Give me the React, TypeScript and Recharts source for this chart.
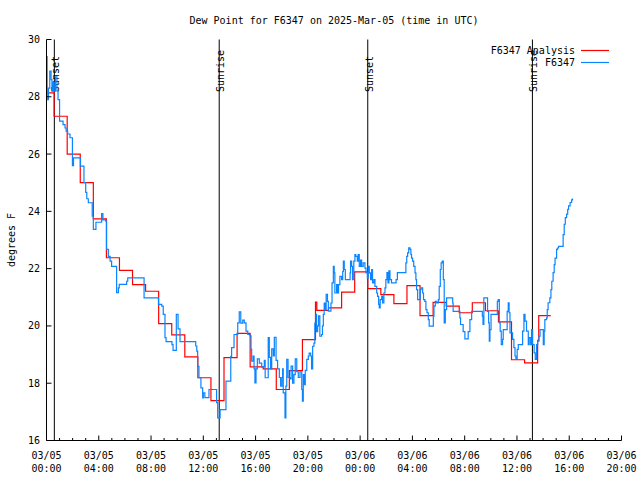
import { LineChart, Line, XAxis, YAxis, ReferenceLine, Customized } from 'recharts';

const FONT = '"DejaVu Sans Mono", monospace';

// analysis (hourly, changes at hh:35), minutes after 03/05 00:00 UTC
const analysisMinutes = [
  0, 35, 95, 155, 215, 275, 335, 395, 455, 515,
  575, 635, 695, 755, 815, 875, 935, 995, 1055, 1115,
  1175, 1235, 1241, 1295, 1355, 1415, 1475, 1535, 1595, 1655,
  1715, 1775, 1835, 1895, 1955, 2015, 2075, 2135, 2195, 2255,
  2260, 2315,
];
const analysisDewpt = [
  28.14, 27.32, 26.0, 25.0, 23.74, 22.38, 21.94, 21.44, 21.21, 20.08,
  19.69, 18.92, 18.19, 17.39, 18.89, 19.74, 18.57, 18.5, 17.78, 18.44,
  19.52, 20.83, 20.54, 20.63, 21.18, 21.89, 21.3, 21.09, 20.78, 21.41,
  20.36, 20.82, 20.69, 20.46, 20.81, 20.53, 20.14, 18.82, 18.71, 19.5,
  20.36, 20.36,
];

// station observations
const obsMinutes = [
  0, 3, 9, 15, 21, 25, 30, 35, 41, 48,
  53, 60, 76, 85, 90, 97, 108, 119, 124, 156,
  172, 180, 185, 192, 210, 215, 227, 253, 259, 272,
  276, 284, 292, 299, 322, 330, 334, 368, 373, 448,
  514, 529, 536, 544, 549, 576, 581, 596, 604, 613,
  685, 690, 694, 700, 709, 717, 720, 727, 746, 781,
  786, 797, 824, 846, 850, 861, 878, 885, 892, 901,
  908, 916, 924, 934, 939, 942, 949, 953, 957, 962,
  968, 977, 988, 1000, 1004, 1018, 1023, 1029, 1034, 1041,
  1046, 1054, 1061, 1069, 1075, 1081, 1084, 1087, 1095, 1099,
  1103, 1109, 1118, 1123, 1130, 1136, 1142, 1149, 1156, 1164,
  1172, 1175, 1179, 1184, 1188, 1195, 1202, 1206, 1213, 1217,
  1222, 1228, 1232, 1237, 1240, 1245, 1249, 1255, 1263, 1267,
  1271, 1275, 1280, 1284, 1290, 1294, 1306, 1311, 1317, 1321,
  1324, 1332, 1337, 1341, 1347, 1355, 1360, 1363, 1367, 1372,
  1394, 1396, 1401, 1405, 1411, 1416, 1420, 1427, 1431, 1436,
  1442, 1447, 1454, 1462, 1467, 1473, 1477, 1482, 1488, 1493,
  1497, 1503, 1508, 1516, 1520, 1525, 1528, 1532, 1539, 1543,
  1549, 1554, 1558, 1563, 1568, 1572, 1577, 1584, 1605, 1611,
  1650, 1654, 1658, 1663, 1669, 1673, 1676, 1681, 1686, 1692,
  1696, 1699, 1704, 1716, 1720, 1727, 1731, 1737, 1742, 1747,
  1753, 1757, 1776, 1779, 1785, 1791, 1799, 1803, 1808, 1812,
  1817, 1822, 1826, 1831, 1837, 1865, 1867, 1898, 1901, 1913,
  1921, 1936, 1944, 1952, 2001, 2004, 2008, 2025, 2030, 2033,
  2036, 2041, 2070, 2074, 2079, 2083, 2088, 2094, 2097, 2115,
  2120, 2124, 2128, 2140, 2146, 2151, 2155, 2161, 2166, 2186,
  2192, 2197, 2204, 2212, 2216, 2223, 2227, 2232, 2239, 2244,
  2250, 2255, 2261, 2266, 2281, 2285, 2288, 2296, 2299, 2303,
  2311, 2316, 2320, 2326, 2331, 2335, 2342, 2346, 2351, 2372,
  2377, 2382, 2388, 2393, 2397, 2404, 2411, 2415,
];
const obsDewpt = [
  29.4, 27.9, 28.3, 28.9, 28.6, 28.2, 28.5, 28.2, 28.7, 28.2,
  27.9, 27.15, 27.03, 26.91, 26.8, 26.7, 26.57, 25.6, 25.87, 25.58,
  25.0, 24.66, 24.44, 24.3, 23.83, 23.37, 23.62, 23.92, 23.7, 23.66,
  22.67, 22.43, 22.26, 22.08, 21.16, 21.33, 21.45, 21.56, 21.68, 20.98,
  20.75, 20.69, 20.4, 19.59, 19.45, 19.35, 19.15, 20.4, 19.9, 19.45,
  19.3, 19.12, 18.59, 18.19, 17.84, 17.49, 17.66, 17.5, 17.78, 17.32,
  16.79, 17.08, 18.07, 18.94, 19.24, 19.7, 20.11, 20.49, 20.1, 20.2,
  20.11, 19.82, 19.7, 19.65, 19.18, 18.77, 18.95, 18.5, 18.01, 18.5,
  18.85, 18.7, 18.57, 18.8, 18.19, 19.59, 18.9, 18.5, 19.2, 18.95,
  19.6, 18.8, 18.5, 18.2, 17.9, 18.2, 18.5, 17.66, 16.79, 17.9,
  18.83, 18.2, 18.15, 18.6, 18.0, 18.3, 18.85, 18.4, 18.2, 18.4,
  17.78, 17.37, 18.3, 17.95, 18.45, 18.83, 18.95, 19.05, 18.95, 18.5,
  19.29, 19.4, 20.1, 20.4, 19.8, 20.0, 20.35, 19.64, 19.7, 20.0,
  20.4, 20.8, 20.57, 21.1, 20.86, 20.52, 20.8, 21.5, 22.08, 21.85,
  21.15, 21.44, 21.15, 21.44, 21.73, 21.62, 21.9, 22.26, 21.97, 21.62,
  21.85, 22.26, 22.08, 21.62, 22.26, 22.49, 22.43, 22.26, 22.49, 22.08,
  22.3, 22.08, 22.2, 22.02, 21.85, 21.68, 22.08, 21.85, 21.62, 21.97,
  21.5, 21.62, 21.38, 21.15, 21.03, 20.75, 20.63, 20.92, 21.03, 20.8,
  21.15, 21.33, 21.62, 21.86, 21.5, 21.92, 21.62, 21.5, 21.62, 21.86,
  22.2, 22.43, 22.55, 22.73, 22.67, 22.5, 22.37, 22.26, 22.08, 21.85,
  21.62, 21.27, 20.92, 21.27, 21.33, 21.15, 20.92, 20.86, 20.57, 20.46,
  20.22, 19.99, 20.34, 20.69, 20.86, 20.8, 20.92, 21.38, 21.97, 22.2,
  22.26, 21.62, 20.11, 20.57, 20.98, 20.8, 20.51, 20.28, 20.05, 19.8,
  19.55, 19.8, 20.22, 20.51, 20.34, 20.05, 20.98, 20.51, 20.11, 19.47,
  19.87, 20.4, 20.86, 20.92, 20.11, 19.82, 19.35, 19.53, 19.87, 20.51,
  20.81, 20.46, 19.76, 19.53, 19.24, 18.95, 18.83, 19.18, 19.35, 19.82,
  20.4, 20.17, 19.82, 19.35, 19.59, 19.35, 19.87, 19.35, 19.06, 18.83,
  19.35, 19.47, 19.64, 19.87, 19.35, 19.82, 20.22, 20.28, 20.57, 20.81,
  20.98, 21.27, 21.56, 21.86, 22.14, 22.37, 22.67, 22.72, 22.78, 23.19,
  23.55, 23.78, 23.9, 24.07, 24.19, 24.31, 24.4, 24.45,
];

const sunMinutes = [36, 793, 1475, 2231];
const sunNames = ['Sunset', 'Sunrise', 'Sunset', 'Sunrise'];

const yTicks = [16, 18, 20, 22, 24, 26, 28, 30];
const xMajorTicks = [0, 240, 480, 720, 960, 1200, 1440, 1680, 1920, 2160, 2400, 2640];
const xTickDates = ['03/05', '03/05', '03/05', '03/05', '03/05', '03/05', '03/06', '03/06', '03/06', '03/06', '03/06', '03/06'];
const xTickTimes = ['00:00', '04:00', '08:00', '12:00', '16:00', '20:00', '00:00', '04:00', '08:00', '12:00', '16:00', '20:00'];
const xAllTicks = Array.from({ length: 45 }, (_, i) => i * 60);

const analysisData = analysisMinutes.map((t, i) => ({ t, v: analysisDewpt[i] }));
const obsData = obsMinutes.map((t, i) => ({ t, v: obsDewpt[i] }));

const txt = { fontFamily: FONT, fontSize: 10, fill: '#000' };

const BottomTick = (props: any) => {
  const { x, y, payload } = props;
  const i = xMajorTicks.indexOf(payload.value);
  return (
    <g>
      <line x1={x} x2={x} y1={y} y2={y - (i >= 0 ? 5 : 2.5)} stroke="#000" />
      {i >= 0 && (
        <text x={x} y={y + 18} textAnchor="middle" {...txt}>{xTickDates[i]}</text>
      )}
      {i >= 0 && (
        <text x={x} y={y + 31} textAnchor="middle" {...txt}>{xTickTimes[i]}</text>
      )}
    </g>
  );
};

const TopTick = (props: any) => {
  const { x, y, payload } = props;
  const major = xMajorTicks.includes(payload.value);
  return <line x1={x} x2={x} y1={y} y2={y + (major ? 5 : 2.5)} stroke="#000" />;
};

const LeftTick = (props: any) => {
  const { x, y, payload } = props;
  return (
    <g>
      <line x1={x} x2={x + 5} y1={y} y2={y} stroke="#000" />
      <text x={40} y={y + 3.5} textAnchor="end" {...txt}>{payload.value}</text>
    </g>
  );
};

const RightTick = (props: any) => {
  const { x, y } = props;
  return <line x1={x} x2={x - 5} y1={y} y2={y} stroke="#000" />;
};

const SunLabel = (props: any) => {
  const vb = props.viewBox || {};
  const x = vb.x + 1.5;
  const y = vb.y + 52.5;
  return (
    <text
      x={x}
      y={y}
      transform={`rotate(-90 ${x} ${y})`}
      textAnchor="start"
      dominantBaseline="central"
      {...txt}
    >
      {props.text}
    </text>
  );
};

const Overlay = () => (
  <g>
    <text x={334} y={24} textAnchor="middle" {...txt}>
      Dew Point for F6347 on 2025-Mar-05 (time in UTC)
    </text>
    <text
      x={11}
      y={240}
      transform="rotate(-90 11 240)"
      textAnchor="middle"
      dominantBaseline="central"
      {...txt}
    >
      degrees F
    </text>
    <text x={575} y={54} textAnchor="end" {...txt}>F6347 Analysis</text>
    <line x1={581} x2={609} y1={50.5} y2={50.5} stroke="#ff0000" strokeWidth={1.2} />
    <text x={575} y={66} textAnchor="end" {...txt}>F6347</text>
    <line x1={581} x2={609} y1={62.5} y2={62.5} stroke="#0a84ff" strokeWidth={1.2} />
  </g>
);

export default function App() {
  return (
    <div style={{ position: 'absolute', left: 0, top: 0, width: 640, height: 480, background: '#fff', fontFamily: FONT }}>
      <LineChart width={640} height={480} margin={{ top: 39.5, right: 18.5, bottom: 0, left: 0 }}>
        <XAxis
          xAxisId="b"
          type="number"
          dataKey="t"
          domain={[0, 2640]}
          ticks={xAllTicks}
          interval={0}
          allowDataOverflow
          height={39.5}
          tickSize={0}
          tickMargin={0}
          tickLine={false}
          tick={<BottomTick />}
          axisLine={{ stroke: '#000' }}
        />
        <XAxis
          xAxisId="t"
          orientation="top"
          type="number"
          dataKey="t"
          domain={[0, 2640]}
          ticks={xAllTicks}
          interval={0}
          allowDataOverflow
          height={0}
          tickSize={0}
          tickMargin={0}
          tickLine={false}
          tick={<TopTick />}
          axisLine={{ stroke: '#000' }}
        />
        <YAxis
          yAxisId="l"
          domain={[16, 30]}
          ticks={yTicks}
          interval={0}
          allowDataOverflow
          width={46.5}
          tickSize={0}
          tickMargin={0}
          tickLine={false}
          tick={<LeftTick />}
          axisLine={{ stroke: '#000' }}
        />
        <YAxis
          yAxisId="r"
          orientation="right"
          domain={[16, 30]}
          ticks={yTicks}
          interval={0}
          allowDataOverflow
          width={0}
          tickSize={0}
          tickMargin={0}
          tickLine={false}
          tick={<RightTick />}
          axisLine={{ stroke: '#000' }}
        />
        {sunMinutes.map((m, i) => (
          <ReferenceLine
            key={i}
            x={m}
            xAxisId="b"
            yAxisId="l"
            stroke="#000"
            strokeWidth={1}
            label={(p: any) => <SunLabel {...p} text={sunNames[i]} />}
          />
        ))}
        <Line
          xAxisId="b"
          yAxisId="l"
          data={analysisData}
          dataKey="v"
          type="stepAfter"
          stroke="#ff0000"
          strokeWidth={1.2}
          dot={false}
          isAnimationActive={false}
        />
        <Line
          xAxisId="b"
          yAxisId="l"
          data={obsData}
          dataKey="v"
          type="stepAfter"
          stroke="#0a84ff"
          strokeWidth={1.2}
          dot={false}
          isAnimationActive={false}
        />
        <Customized component={Overlay} />
      </LineChart>
    </div>
  );
}
